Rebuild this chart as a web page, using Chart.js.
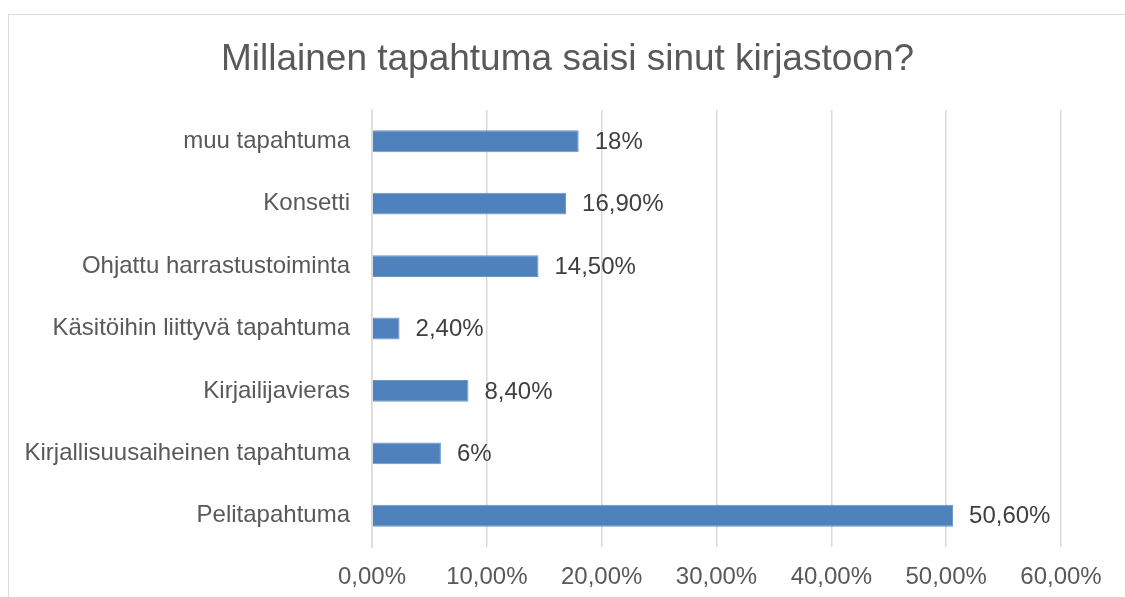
<!DOCTYPE html>
<html>
<head>
<meta charset="utf-8">
<script src="https://cdn.jsdelivr.net/npm/chart.js@4/dist/chart.umd.min.js"></script>
<style>
	html, body { margin: 0; padding: 0; background: #fff; overflow: hidden; }
	#frame { position: absolute; left: 8px; top: 14px; width: 1300px; height: 800px; border: 1px solid #d9d9d9; }
	#wrap { position: absolute; left: 0; top: 0; width: 1125px; height: 597px; }
</style>
</head>
<body>
<div id="frame"></div>
<div id="wrap"><canvas id="chart"></canvas></div>
<script>
	var categories = [
		'muu tapahtuma',
		'Konsetti',
		'Ohjattu harrastustoiminta',
		'Käsitöihin liittyvä tapahtuma',
		'Kirjailijavieras',
		'Kirjallisuusaiheinen tapahtuma',
		'Pelitapahtuma'
	];
	var values = [18, 16.9, 14.5, 2.4, 8.4, 6, 50.6];
	var valueLabels = ['18%', '16,90%', '14,50%', '2,40%', '8,40%', '6%', '50,60%'];
	var titleText = 'Millainen tapahtuma saisi sinut kirjastoon?';
	var axisMax = 60;
	var axisStep = 10;

	var fontFamily = "'Liberation Sans', Arial, sans-serif";

	// title centred over the whole framed box, not only the plot
	var boxTitle = {
		id: 'boxTitle',
		afterDraw: function(chart) {
			var ctx = chart.ctx;
			ctx.save();
			ctx.font = '37px ' + fontFamily;
			ctx.fillStyle = '#595959';
			ctx.textAlign = 'center';
			ctx.textBaseline = 'alphabetic';
			ctx.fillText(titleText, (chart.width + 10) / 2, 70);
			ctx.restore();
		}
	};

	// draws the value text right of each bar
	var barLabels = {
		id: 'barLabels',
		afterDatasetsDraw: function(chart) {
			var ctx = chart.ctx;
			var meta = chart.getDatasetMeta(0);
			ctx.save();
			ctx.font = '24px ' + fontFamily;
			ctx.fillStyle = '#404040';
			ctx.textAlign = 'left';
			ctx.textBaseline = 'middle';
			meta.data.forEach(function(bar, i) {
				ctx.fillText(valueLabels[i], bar.x + 16, bar.y + 1);
			});
			ctx.restore();
		}
	};

	new Chart(document.getElementById('chart'), {
		type: 'bar',
		data: {
			labels: categories,
			datasets: [{
				data: values,
				backgroundColor: '#4f81bd',
				borderColor: '#6a95c9',
				borderWidth: 1,
				categoryPercentage: 1,
				barPercentage: 0.35
			}]
		},
		options: {
			indexAxis: 'y',
			responsive: true,
			maintainAspectRatio: false,
			animation: false,
			layout: {
				padding: {left: 10, right: 64, top: 110, bottom: 0}
			},
			plugins: {
				legend: {display: false},
				tooltip: {enabled: false},
				title: {display: false}
			},
			scales: {
				x: {
					min: 0,
					max: axisMax,
					afterFit: function(scale) { scale.height = 50; },
					grid: {color: '#d9d9d9', lineWidth: 1.5, drawTicks: false},
					border: {display: false},
					ticks: {
						stepSize: axisStep,
						padding: 16,
						color: '#595959',
						font: {family: fontFamily, size: 24},
						callback: function(v) { return v.toFixed(2).replace('.', ',') + '%'; }
					}
				},
				y: {
					afterFit: function(scale) { scale.width = 362; },
					grid: {display: false, drawTicks: false},
					border: {display: true, color: '#d9d9d9', width: 1.5},
					ticks: {
						padding: 22,
						color: '#595959',
						font: {family: fontFamily, size: 24}
					}
				}
			}
		},
		plugins: [barLabels, boxTitle]
	});
</script>
</body>
</html>
